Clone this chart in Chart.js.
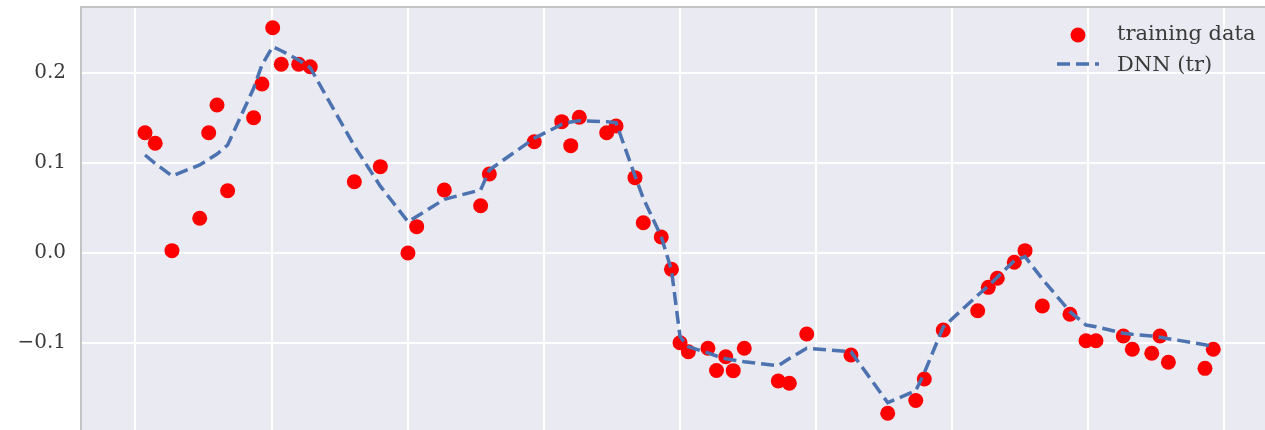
<!DOCTYPE html>
<html>
<head>
<meta charset="utf-8">
<title>DNN fit on training data</title>
<script src="https://cdn.jsdelivr.net/npm/chart.js@4.4.1/dist/chart.umd.min.js"></script>
<style>
  html, body { margin: 0; padding: 0; background: #ffffff; }
  #wrap { width: 1265px; height: 430px; }
</style>
</head>
<body>
<div id="wrap"><canvas id="chart" width="1265" height="430"></canvas></div>
<script>
// Sample positions (shared by the training points and the network output)
const xValues = [
  0.070, 0.145, 0.268, 0.472, 0.538, 0.599, 0.677, 0.868, 0.929, 1.008,
  1.071, 1.199, 1.284, 1.608, 1.799, 2.002, 2.066, 2.269, 2.536, 2.600,
  2.930, 3.132, 3.198, 3.261, 3.462, 3.531, 3.670, 3.731, 3.863, 3.938,
  4.001, 4.062, 4.206, 4.269, 4.337, 4.392, 4.473, 4.723, 4.804, 4.932,
  5.257, 5.527, 5.733, 5.796, 5.935, 6.188, 6.266, 6.332, 6.457, 6.536,
  6.663, 6.866, 6.984, 7.057, 7.258, 7.324, 7.467, 7.527, 7.589, 7.858,
  7.919
];

// Observed training targets
const trainingValues = [
  0.1338, 0.1220, 0.0026, 0.0386, 0.1338, 0.1646, 0.0693, 0.1505, 0.1880, 0.2506,
  0.2099, 0.2099, 0.2072, 0.0793, 0.0960, 0.0000, 0.0293, 0.0701, 0.0526, 0.0879,
  0.1238, 0.1461, 0.1194, 0.1509, 0.1338, 0.1413, 0.0838, 0.0337, 0.0178, -0.0181,
  -0.0998, -0.1098, -0.1060, -0.1307, -0.1154, -0.1309, -0.1060, -0.1424, -0.1449, -0.0901,
  -0.1135, -0.1783, -0.1641, -0.1402, -0.0857, -0.0642, -0.0382, -0.0281, -0.0103, 0.0026,
  -0.0590, -0.0682, -0.0976, -0.0976, -0.0923, -0.1071, -0.1116, -0.0923, -0.1216, -0.1283,
  -0.1071
];

// Network prediction on the training inputs
const dnnValues = [
  0.1090, 0.0996, 0.0857, 0.0979, 0.1042, 0.1101, 0.1201, 0.1832, 0.2091, 0.2295,
  0.2250, 0.2147, 0.2061, 0.1190, 0.0743, 0.0348, 0.0406, 0.0597, 0.0701, 0.0923,
  0.1276, 0.1431, 0.1457, 0.1472, 0.1461, 0.1449, 0.0857, 0.0608, 0.0181, -0.0189,
  -0.0931, -0.1042, -0.1112, -0.1146, -0.1176, -0.1190, -0.1209, -0.1254, -0.1174, -0.1060,
  -0.1098, -0.1665, -0.1532, -0.1331, -0.0823, -0.0471, -0.0367, -0.0270, -0.0085, -0.0041,
  -0.0289, -0.0653, -0.0801, -0.0820, -0.0893, -0.0904, -0.0923, -0.0938, -0.0953, -0.1020,
  -0.1042
];

const xTickValues = [0, 1, 2, 3, 4, 5, 6, 7, 8];
const yTickValues = [-0.1, 0.0, 0.1, 0.2];
const yTickLabels = ['\u22120.1', '0.0', '0.1', '0.2'];

const seriesLabels = ['training data', 'DNN (tr)'];

const TEXT_COLOR = '#3a3a3a';
const FONT_FAMILY = '"DejaVu Serif", "Liberation Serif", serif';

// Seaborn-like panel: grey face plus a thin frame on the visible edges
const panelPlugin = {
  id: 'panel',
  beforeDraw(chart) {
    const { ctx, chartArea: a } = chart;
    ctx.save();
    ctx.fillStyle = '#eaeaf2';
    ctx.fillRect(a.left, a.top, a.right - a.left, a.bottom - a.top);
    ctx.restore();
  },
  afterDraw(chart) {
    const { ctx, chartArea: a } = chart;
    ctx.save();
    ctx.strokeStyle = '#c4c4c4';
    ctx.lineWidth = 2;
    ctx.beginPath();
    ctx.moveTo(a.left - 1, a.bottom);
    ctx.lineTo(a.left - 1, a.top - 1);
    ctx.lineTo(a.right, a.top - 1);
    ctx.stroke();
    ctx.restore();
  }
};

// Legend drawn inside the panel, upper right, without a frame
const innerLegendPlugin = {
  id: 'innerLegend',
  afterDraw(chart) {
    const { ctx } = chart;
    const ds = chart.data.datasets;
    const sampleLeft = 1057, sampleRight = 1099, textX = 1117;
    const rows = [35, 66];
    ctx.save();
    ctx.font = '21px ' + FONT_FAMILY;
    ctx.textBaseline = 'middle';
    ctx.textAlign = 'left';

    // scatter marker
    ctx.beginPath();
    ctx.arc((sampleLeft + sampleRight) / 2, rows[0], ds[0].pointRadius, 0, Math.PI * 2);
    ctx.fillStyle = ds[0].backgroundColor;
    ctx.fill();

    // dashed line sample
    ctx.beginPath();
    ctx.setLineDash(ds[1].borderDash);
    ctx.strokeStyle = ds[1].borderColor;
    ctx.lineWidth = ds[1].borderWidth;
    ctx.moveTo(sampleLeft, rows[1] - 2);
    ctx.lineTo(sampleRight, rows[1] - 2);
    ctx.stroke();
    ctx.setLineDash([]);

    ctx.fillStyle = TEXT_COLOR;
    ctx.fillText(ds[0].label, textX, rows[0]);
    ctx.fillText(ds[1].label, textX, rows[1]);
    ctx.restore();
  }
};

const gridStyle = { color: '#ffffff', lineWidth: 2, drawTicks: false };

// Let the panel run to the canvas edges: no reserved label overhang
function clearPadding(s) {
  s.paddingTop = 0;
  s.paddingBottom = 0;
  s.paddingLeft = 0;
  s.paddingRight = 0;
}

new Chart(document.getElementById('chart'), {
  type: 'scatter',
  data: {
    datasets: [
      {
        label: seriesLabels[0],
        data: xValues.map((x, i) => ({ x: x, y: trainingValues[i] })),
        backgroundColor: '#ff0000',
        borderWidth: 0,
        pointRadius: 7.5,
        pointHoverRadius: 7.5,
        order: 1
      },
      {
        label: seriesLabels[1],
        data: xValues.map((x, i) => ({ x: x, y: dnnValues[i] })),
        showLine: true,
        borderColor: '#4c72b0',
        backgroundColor: '#4c72b0',
        borderWidth: 3.5,
        borderDash: [13, 6],
        pointRadius: 0,
        pointHoverRadius: 0,
        tension: 0,
        fill: false,
        order: 0
      }
    ]
  },
  options: {
    responsive: false,
    animation: false,
    devicePixelRatio: 1,
    layout: { autoPadding: false, padding: { top: 8, left: 0, right: 0, bottom: 0 } },
    plugins: {
      legend: { display: false },
      tooltip: { enabled: false }
    },
    scales: {
      x: {
        type: 'linear',
        min: -0.393,
        max: 8.299,
        afterBuildTicks: (s) => { s.ticks = xTickValues.map(v => ({ value: v })); },
        afterFit: (s) => { s.height = 0; clearPadding(s); },
        ticks: { display: false },
        grid: gridStyle,
        border: { display: false }
      },
      y: {
        type: 'linear',
        min: -0.1969,
        max: 0.2725,
        afterBuildTicks: (s) => { s.ticks = yTickValues.map(v => ({ value: v })); },
        afterFit: (s) => { s.width = 82; clearPadding(s); },
        ticks: {
          callback: (v, i) => yTickLabels[i],
          color: TEXT_COLOR,
          font: { family: FONT_FAMILY, size: 20 },
          padding: 16
        },
        grid: gridStyle,
        border: { display: false }
      }
    }
  },
  plugins: [panelPlugin, innerLegendPlugin]
});
</script>
</body>
</html>
